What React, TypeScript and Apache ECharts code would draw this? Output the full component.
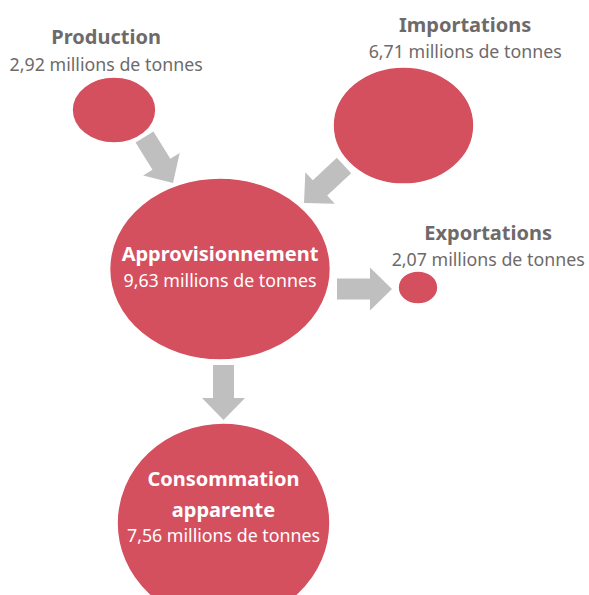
import React, { useEffect, useRef } from 'react';
import * as echarts from 'echarts';

// ---- data ----
const nodeNames = ['Production', 'Importations', 'Approvisionnement', 'Exportations', 'Consommation\napparente'];
const nodeValues = [2.92, 6.71, 9.63, 2.07, 7.56];
const unitLabel = 'millions de tonnes';
const flows: [number, number][] = [[0, 2], [1, 2], [2, 3], [2, 4]];

// ---- layout (pixels) ----
const W = 589;
const H = 595;
const nodeCenters = [[114, 110], [403.5, 125.5], [220, 269], [418, 287.5], [223.5, 523]];
const nodeSizes = [[84, 66], [141, 117], [221, 182], [40, 33], [213, 200]];
const labelInside = [false, false, true, false, true];
const labelPositions: any[] = [[35, -26], [133, -28.5], 'inside', [91, -24.5], 'inside'];
const labelOffsets = [[0, 0], [0, 0], [0, -2.5], [0, 0], [0, -19]];
const arrowGeom = [
  { tail: [144.5, 137], tip: [173, 183] },
  { tail: [344, 165.5], tip: [304, 203] },
  { tail: [337, 289], tip: [392, 289] },
  { tail: [223.5, 365], tip: [223.5, 420] },
];

const RED = '#d4505f';
const GREY_TEXT = '#6e6a6a';
const ARROW = '#bfbfbf';
const FONT = 'Noto Sans';

function fmt(v: number) {
  return v.toFixed(2).replace('.', ',');
}

function arrowPoints(tail: number[], tip: number[]) {
  const dx = tip[0] - tail[0];
  const dy = tip[1] - tail[1];
  const L = Math.hypot(dx, dy);
  const ux = dx / L, uy = dy / L;
  const nx = -uy, ny = ux;
  const sw = 10.5, hw = 21.5, hl = 22;
  const bx = tip[0] - ux * hl, by = tip[1] - uy * hl;
  return [
    [tail[0] + nx * sw, tail[1] + ny * sw],
    [bx + nx * sw, by + ny * sw],
    [bx + nx * hw, by + ny * hw],
    [tip[0], tip[1]],
    [bx - nx * hw, by - ny * hw],
    [bx - nx * sw, by - ny * sw],
    [tail[0] - nx * sw, tail[1] - ny * sw],
  ];
}

export default function App() {
  const ref = useRef<HTMLDivElement>(null);
  useEffect(() => {
    if (!ref.current) return;
    const chart = echarts.init(ref.current, undefined, { renderer: 'svg' });
    const data = nodeNames.map((name, i) => {
      const inside = labelInside[i];
      const titleLines = name.split('\n').map((l) => `{b|${l}}`).join('\n');
      return {
        name,
        value: [nodeCenters[i][0], nodeCenters[i][1], nodeValues[i]],
        symbolSize: nodeSizes[i],
        label: {
          show: true,
          position: labelPositions[i],
          offset: labelOffsets[i],
          align: 'center',
          verticalAlign: 'middle',
          formatter: `${titleLines}\n{v|${fmt(nodeValues[i])} ${unitLabel}}`,
          rich: {
            b: {
              fontFamily: FONT,
              fontWeight: 'bold',
              fontSize: 20,
              lineHeight: inside && i === 4 ? 31 : 27,
              color: inside ? '#ffffff' : GREY_TEXT,
              align: 'center',
            },
            v: {
              fontFamily: FONT,
              fontSize: 17.8,
              lineHeight: inside && i === 4 ? 21 : 27,
              color: inside ? '#ffffff' : GREY_TEXT,
              align: 'center',
            },
          },
        },
      };
    });
    const graphics = flows.map((f, k) => ({
      type: 'polygon',
      z: 0,
      silent: true,
      shape: { points: arrowPoints(arrowGeom[k].tail, arrowGeom[k].tip) },
      style: { fill: ARROW },
    }));
    chart.setOption({
      animation: false,
      backgroundColor: '#ffffff',
      grid: { left: 0, right: 0, top: 0, bottom: 0 },
      xAxis: { type: 'value', min: 0, max: W, show: false },
      yAxis: { type: 'value', min: 0, max: H, inverse: true, show: false },
      graphic: graphics,
      series: [
        {
          type: 'scatter',
          z: 5,
          silent: true,
          symbol: 'path://M0,50 A50,50 0 1,1 100,50 A50,50 0 1,1 0,50 Z',
          itemStyle: { color: RED, opacity: 1, borderColor: '#ffffff', borderWidth: 1.5 },
          emphasis: { disabled: true },
          data,
        },
      ],
    });
    return () => chart.dispose();
  }, []);
  return (
    <div
      ref={ref}
      style={{ position: 'fixed', left: 0, top: 0, width: W, height: H }}
    />
  );
}
